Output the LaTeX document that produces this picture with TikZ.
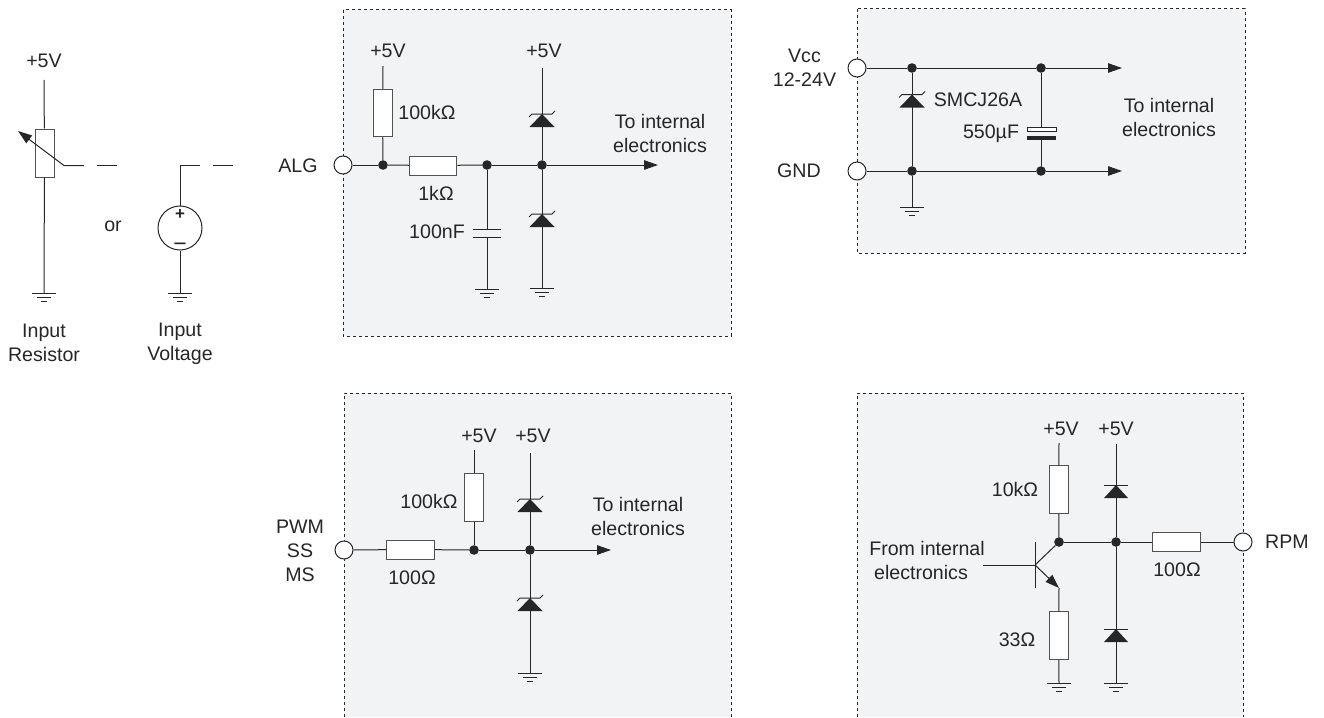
\documentclass[tikz,border=0pt]{standalone}
\usepackage{fontspec}
\setmainfont{Liberation Sans}
\usetikzlibrary{arrows.meta}
\definecolor{ink}{HTML}{262626}
\definecolor{panelbg}{HTML}{F1F3F5}
\tikzset{
  every picture/.style={x=1pt,y=-1pt},
  wire/.style={draw=ink,line width=1pt},
  tipped/.style={-{Triangle[length=14pt,width=9.5pt]}},
  sig/.style={wire,tipped},
  lbl/.style={inner sep=0pt,text=ink,font=\fontsize{19.6}{24}\selectfont,align=center},
  polp/.style={inner sep=0pt,text=ink,font=\fontsize{17}{20}\bfseries\selectfont},
  polm/.style={inner sep=0pt,text=ink,font=\fontsize{23}{24}\selectfont},
  dot/.style={circle,fill=ink,inner sep=0pt,minimum size=9.6pt},
  term/.style={circle,draw=ink,fill=white,line width=1pt,inner sep=0pt,minimum size=18pt},
  res/.style={rectangle,draw=ink!80,fill=white,line width=1pt,inner sep=0pt},
  hres/.style={res,minimum width=47.5pt,minimum height=19pt},
  vres/.style={res,minimum width=19pt,minimum height=47.5pt},
  panelfill/.style={fill=panelbg,draw=none},
  paneledge/.style={draw=ink,line width=1pt,dash pattern=on 3pt off 3pt},
  gndsym/.pic={\draw[wire] (-12,0)--(12,0) (-7,4.5)--(7,4.5) (-3,8.5)--(3,8.5);},
  zenersym/.pic={\fill[ink] (0,0)--(12.5,13)--(-12.5,13)--cycle;
    \draw[wire] (-13,3)--(-10,0)--(10,0)--(13,-3);},
  diodesym/.pic={\fill[ink] (0,0)--(12,13)--(-12,13)--cycle;
    \draw[wire] (-12,0)--(12,0);},
}
\begin{document}
\begin{tikzpicture}
\useasboundingbox (0,0) rectangle (1324,717);
% panels
\fill[panelfill] (343,10) rectangle (731,336);
\draw[paneledge] (343,10) rectangle (731,336);
\fill[panelfill] (857,9) rectangle (1245,253);
\draw[paneledge] (857,9) rectangle (1245,253);
\fill[panelfill] (344,393) rectangle (731,717);
\draw[paneledge] (344,717) -- (344,393) -- (731,393) -- (731,717);
\fill[panelfill] (857,393) rectangle (1243,717);
\draw[paneledge] (857,717) -- (857,393) -- (1243,393) -- (1243,717);

% ---------- input sources
\node[lbl] (t5a) at (44,61) {+5V};
\coordinate (pt) at (44,80);
\node[res,minimum width=19pt,minimum height=48pt] (pot) at (44.5,153) {};
\coordinate (pg) at (44,293);
\coordinate (pw) at (64,165.5);
\coordinate (pa) at (18,131);
\coordinate (pd1) at (84,165.5);
\coordinate (pd2) at (97,165.5);
\coordinate (pd3) at (117,165.5);
\draw[wire] (pt) -- (pot);
\draw[wire] (pot) -- (pg);
\draw[wire,tipped] (pd1) -- (pw) -- (pa);
\draw[wire] (pd2) -- (pd3);
\pic at (pg) {gndsym};
\node[lbl] (or) at (113,226) {or};
\node[lbl] (inr) at (44,342.5) {Input\\Resistor};
\node[circle,draw=ink,fill=white,line width=1pt,inner sep=0pt,minimum size=44pt] (vs) at (180,228) {};
\node[polp] (vsp) at (180,215) {+};
\node[polm] (vsm) at (180,247) {−};
\coordinate (vc) at (180,165.5);
\coordinate (vd1) at (200,165.5);
\coordinate (vd2) at (213,165.5);
\coordinate (vd3) at (233,165.5);
\coordinate (vg) at (180,293);
\draw[wire] (vd1) -- (vc) -- (vs);
\draw[wire] (vd2) -- (vd3);
\draw[wire] (vs) -- (vg);
\pic at (vg) {gndsym};
\node[lbl] (inv) at (180,344) {Input\\Voltage};

% ---------- ALG
\node[lbl] (alg) at (298,166) {ALG};
\node[term] (at) at (343,165) {};
\node[dot] (ad1) at (383,165) {};
\node[hres] (ar1) at (433,165.5) {};
\node[dot] (ad2) at (487,165) {};
\node[dot] (ad3) at (542,165) {};
\node[vres] (ar2) at (382.5,113) {};
\coordinate (a5a) at (383,66);
\coordinate (a5b) at (542,68);
\coordinate (ag1) at (487,289);
\coordinate (ag2) at (542,288);
\coordinate (aout) at (658,165);
\coordinate (acap1) at (487,229);
\coordinate (acap2) at (487,237);
\draw[wire] (at) -- (ad1);
\draw[wire] (ad1) -- (ar1);
\draw[wire] (ar1) -- (ad2);
\draw[wire] (ad2) -- (ad3);
\draw[sig] (ad3) -- (aout);
\draw[wire] (a5a) -- (ar2);
\draw[wire] (ar2) -- (ad1);
\draw[wire] (ad2) -- (acap1);
\draw[wire] (acap2) -- (ag1);
\draw[wire] (a5b) -- (ad3);
\draw[wire] (ad3) -- (ag2);
\draw[wire] (473,229) -- (501,229) (473,237) -- (501,237);
\pic at (ag1) {gndsym};
\pic at (ag2) {gndsym};
\pic at (542,114) {zenersym};
\pic at (542,214) {zenersym};
\node[lbl] (a5at) at (388,51) {+5V};
\node[lbl] (a5bt) at (544,51) {+5V};
\node[lbl] (a100k) at (427,112) {100kΩ};
\node[lbl] (a1k) at (436,193) {1kΩ};
\node[lbl] (a100n) at (437,232) {100nF};
\node[lbl] (ato) at (660,133) {To internal\\electronics};

% ---------- Vcc / GND
\node[lbl] (vcc) at (804.5,67.5) {Vcc\\12-24V};
\node[lbl] (gnd) at (799,171) {GND};
\node[term] (vt) at (857,68) {};
\node[term] (gt) at (857,171) {};
\node[dot] (vd) at (912,68) {};
\node[dot] (vde) at (1041,68) {};
\node[dot] (gd) at (912,171) {};
\node[dot] (gde) at (1041,171) {};
\coordinate (vo) at (1122,68);
\coordinate (go) at (1122,171);
\coordinate (gg) at (912,207);
\coordinate (cp1) at (1041,127);
\coordinate (cp2) at (1041,140);
\draw[wire] (vt) -- (vd);
\draw[wire] (vd) -- (vde);
\draw[sig] (vde) -- (vo);
\draw[wire] (gt) -- (gd);
\draw[wire] (gd) -- (gde);
\draw[sig] (gde) -- (go);
\draw[wire] (vd) -- (gd);
\draw[wire] (gd) -- (gg);
\draw[wire] (vde) -- (cp1);
\draw[wire] (cp2) -- (gde);
\draw[wire,fill=white] (1027,127) rectangle (1056,131);
\fill[ink] (1027,136) rectangle (1056,140);
\pic at (gg) {gndsym};
\pic at (912,94.5) {zenersym};
\node[lbl] (smc) at (978,100) {SMCJ26A};
\node[lbl] (c550) at (991,134) {550µF};
\node[lbl] (vto) at (1169,117.5) {To internal\\electronics};

% ---------- PWM
\node[lbl] (pwm) at (300,551) {PWM\\SS\\MS};
\node[term] (pwt) at (344,550) {};
\node[hres] (pr1) at (410.5,549.5) {};
\node[dot] (pd) at (474,550) {};
\node[dot] (pde) at (530,550) {};
\node[vres] (pr2) at (474,497.5) {};
\coordinate (p5a) at (474,450);
\coordinate (p5b) at (530,453);
\coordinate (pgg) at (530,673);
\coordinate (pout) at (611,550);
\draw[wire] (pwt) -- (pr1);
\draw[wire] (pr1) -- (pd);
\draw[wire] (pd) -- (pde);
\draw[sig] (pde) -- (pout);
\draw[wire] (p5a) -- (pr2);
\draw[wire] (pr2) -- (pd);
\draw[wire] (p5b) -- (pde);
\draw[wire] (pde) -- (pgg);
\pic at (pgg) {gndsym};
\pic at (530,499) {zenersym};
\pic at (530,598) {zenersym};
\node[lbl] (p5at) at (479,436) {+5V};
\node[lbl] (p5bt) at (533,436) {+5V};
\node[lbl] (p100k) at (429,501) {100kΩ};
\node[lbl] (p100) at (412,578) {100Ω};
\node[lbl] (pto) at (638,516) {To internal\\electronics};

% ---------- RPM
\node[lbl] (rpm) at (1287,542) {RPM};
\node[term] (rt) at (1243,542) {};
\node[hres] (rr1) at (1176.5,542) {};
\node[dot] (rd1) at (1059,542) {};
\node[dot] (rd2) at (1116,542) {};
\node[vres] (rr2) at (1058.5,489.5) {};
\node[vres] (rr3) at (1058.5,635.5) {};
\coordinate (r5a) at (1059,443);
\coordinate (r5b) at (1116,444);
\coordinate (rg1) at (1059,683);
\coordinate (rg2) at (1116,683);
\coordinate (rb) at (983,565);
\coordinate (rj) at (1035,565);
\coordinate (rbt) at (1035,542);
\coordinate (rbb) at (1035,588);
\coordinate (re) at (1059,588);
\draw[wire] (rt) -- (rr1);
\draw[wire] (rr1) -- (rd2);
\draw[wire] (rd2) -- (rd1);
\draw[wire] (r5a) -- (rr2);
\draw[wire] (rr2) -- (rd1);
\draw[wire] (r5b) -- (rd2);
\draw[wire] (rd2) -- (rg2);
\draw[wire] (rb) -- (rj);
\draw[wire] (rbt) -- (rbb);
\draw[wire] (rj) -- (rd1);
\draw[wire,tipped] (rj) -- (re);
\draw[wire] (re) -- (rr3);
\draw[wire] (rr3) -- (rg1);
\pic at (rg1) {gndsym};
\pic at (rg2) {gndsym};
\pic at (1116,485) {diodesym};
\pic at (1116,629) {diodesym};
\node[lbl] (r5at) at (1061,429) {+5V};
\node[lbl] (r5bt) at (1116,429) {+5V};
\node[lbl] (r10k) at (1015,489) {10kΩ};
\node[lbl] (r33) at (1017,640) {33Ω};
\node[lbl] (r100) at (1177,570) {100Ω};
\node[lbl] (rfrom) at (927,560) {From internal\\electronics\hspace*{12pt}};
\end{tikzpicture}
\end{document}
